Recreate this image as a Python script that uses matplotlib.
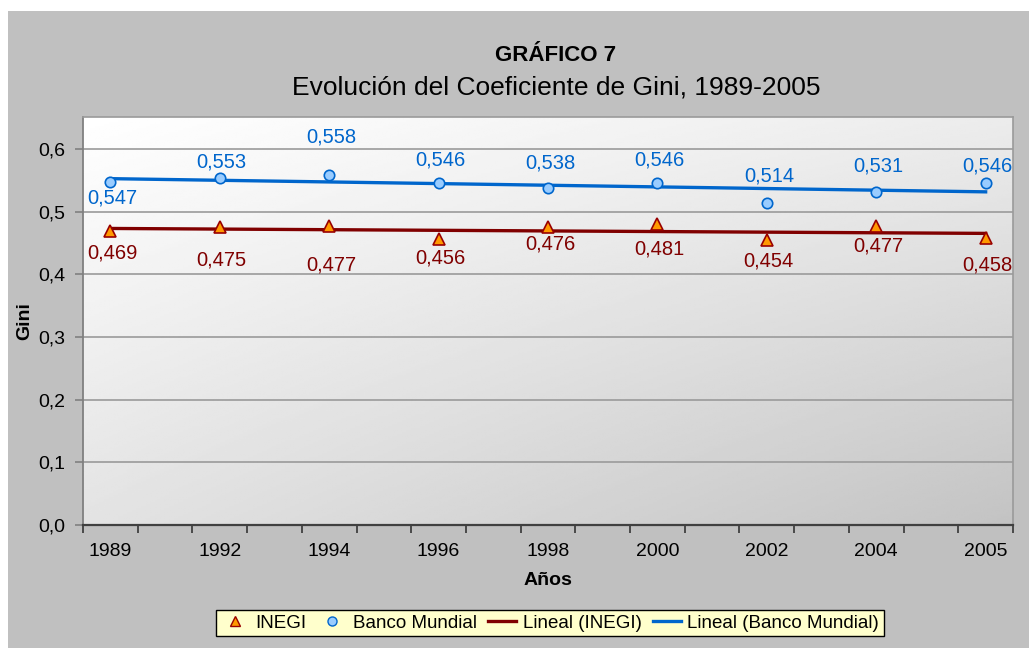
import numpy as np
import matplotlib.pyplot as plt
from matplotlib.patches import Rectangle
from matplotlib.lines import Line2D

plt.rcParams['font.family'] = ['Liberation Sans', 'DejaVu Sans']

# --------------------------------------------------
# DATA
# --------------------------------------------------
years = ["1989", "1992", "1994", "1996", "1998", "2000", "2002", "2004", "2005"]
inegi = [0.469, 0.475, 0.477, 0.456, 0.476, 0.481, 0.454, 0.477, 0.458]
banco = [0.547, 0.553, 0.558, 0.546, 0.538, 0.546, 0.514, 0.531, 0.546]

# label offsets (pixels, + = up) as placed in the original chart
inegi_dy = [-22, -33, -39, -19, -17, -25, -21, -20, -27]
banco_dy = [-16, 16, 38, 23, 25, 23, 27, 26, 17]

RED = "#800000"
BLUE = "#0066cc"

W, H = 1029, 648
fig = plt.figure(figsize=(W / 100, H / 100), dpi=100)
fig.patch.set_facecolor("white")
fig.patches.append(Rectangle((8 / W, 0), 1 - 8 / W, 1 - 11 / H,
                             transform=fig.transFigure, facecolor="#c0c0c0",
                             edgecolor="none", zorder=-10))

ax = fig.add_axes([83 / W, 1 - 525 / H, 930 / W, 408 / H])
ax.set_facecolor("none")

# gradient plot area background
gx, gy = np.meshgrid(np.linspace(0, 1, 200), np.linspace(0, 1, 200))
shade = 1 - (0.075 * gx + 0.11 * gy + 0.05 * gx * gy)
ax.imshow(shade, cmap="gray", vmin=0, vmax=1, extent=[0, 1, 0, 1],
          transform=ax.transAxes, aspect="auto", origin="upper", zorder=0)

# x positions: each year sits on every other slot
x = 2 * np.arange(len(years))
idx = np.arange(1, len(years) + 1)

# --------------------------------------------------
# TREND LINES
# --------------------------------------------------
pi = np.polyfit(idx, inegi, 1)
pb = np.polyfit(idx, banco, 1)
ax.plot(x[[0, -1]], np.polyval(pi, idx[[0, -1]]), color=RED, lw=2.4, zorder=3)
ax.plot(x[[0, -1]], np.polyval(pb, idx[[0, -1]]), color=BLUE, lw=2.4, zorder=3)

# --------------------------------------------------
# POINTS
# --------------------------------------------------
ax.plot(x, inegi, ls="none", marker="^", ms=8.5, mfc="#ff9900", mec="#990000",
        mew=1.2, zorder=4)
ax.plot(x, banco, ls="none", marker="o", ms=7.5, mfc="#99ccff", mec=BLUE,
        mew=1.2, zorder=4)

for xi, v, dy in zip(x, inegi, inegi_dy):
    ax.annotate(f"{v:.3f}".replace(".", ","), (xi, v), xytext=(2, dy),
                textcoords="offset pixels", ha="center", va="center",
                color=RED, fontsize=14.5, zorder=5)
for xi, v, dy in zip(x, banco, banco_dy):
    ax.annotate(f"{v:.3f}".replace(".", ","), (xi, v), xytext=(2, dy),
                textcoords="offset pixels", ha="center", va="center",
                color=BLUE, fontsize=14.5, zorder=5)

# --------------------------------------------------
# AXES
# --------------------------------------------------
ax.set_xlim(x[0] - 0.5, x[-1] + 0.5)
ax.set_ylim(0, 0.651)
yt = np.arange(0, 0.61, 0.1)
ax.set_yticks(yt)
ax.set_yticklabels([f"{t:.1f}".replace(".", ",") for t in yt], fontsize=14)
ax.yaxis.grid(True, color="#9a9a9a", lw=1.2, zorder=1)
ax.set_axisbelow(True)

ax.set_xticks(x)
ax.set_xticklabels(years, fontsize=14)
ax.set_xticks(np.arange(x[0] - 0.5, x[-1] + 0.6, 1), minor=True)
ax.tick_params(axis="x", which="major", length=0, pad=13)
ax.tick_params(axis="x", which="minor", length=6, width=1.3, color="#404040")
ax.tick_params(axis="y", length=6, width=1.2, color="#808080", pad=7)

for s in ["top", "right"]:
    ax.spines[s].set_color("#9a9a9a")
    ax.spines[s].set_linewidth(1.2)
ax.spines["left"].set_color("#808080")
ax.spines["left"].set_linewidth(1.3)
ax.spines["bottom"].set_color("#404040")
ax.spines["bottom"].set_linewidth(1.6)

# --------------------------------------------------
# TEXTS
# --------------------------------------------------
fig.text(556 / W, 1 - 61 / H, "GRÁFICO 7", ha="center", va="baseline",
         fontsize=16, fontweight="bold")
fig.text(556 / W, 1 - 95 / H, "Evolución del Coeficiente de Gini, 1989-2005",
         ha="center", va="baseline", fontsize=19)
fig.text(548 / W, 1 - 585 / H, "Años", ha="center", va="baseline",
         fontsize=14, fontweight="bold")
fig.text(25 / W, 1 - 321 / H, "Gini", ha="center", va="center", rotation=90,
         fontsize=14, fontweight="bold")

# --------------------------------------------------
# LEGEND
# --------------------------------------------------
handles = [
    Line2D([], [], ls="none", marker="^", ms=7, mfc="#ff9900", mec="#990000"),
    Line2D([], [], ls="none", marker="o", ms=6.5, mfc="#99ccff", mec=BLUE),
    Line2D([], [], color=RED, lw=2.4),
    Line2D([], [], color=BLUE, lw=2.4),
]
labels = ["INEGI", "Banco Mundial", "Lineal (INEGI)", "Lineal (Banco Mundial)"]
leg = fig.legend(handles, labels, loc="center", ncol=4,
                 bbox_to_anchor=(550 / W, 1 - 623 / H), fontsize=13.5,
                 frameon=True, fancybox=False, edgecolor="black",
                 facecolor="#ffffcc", framealpha=1, borderpad=0.25,
                 handlelength=1.5, handletextpad=0.35, columnspacing=0.6,
                 borderaxespad=0)
leg.get_frame().set_linewidth(1.0)

fig.savefig("out.png", dpi=100, facecolor=fig.get_facecolor())
